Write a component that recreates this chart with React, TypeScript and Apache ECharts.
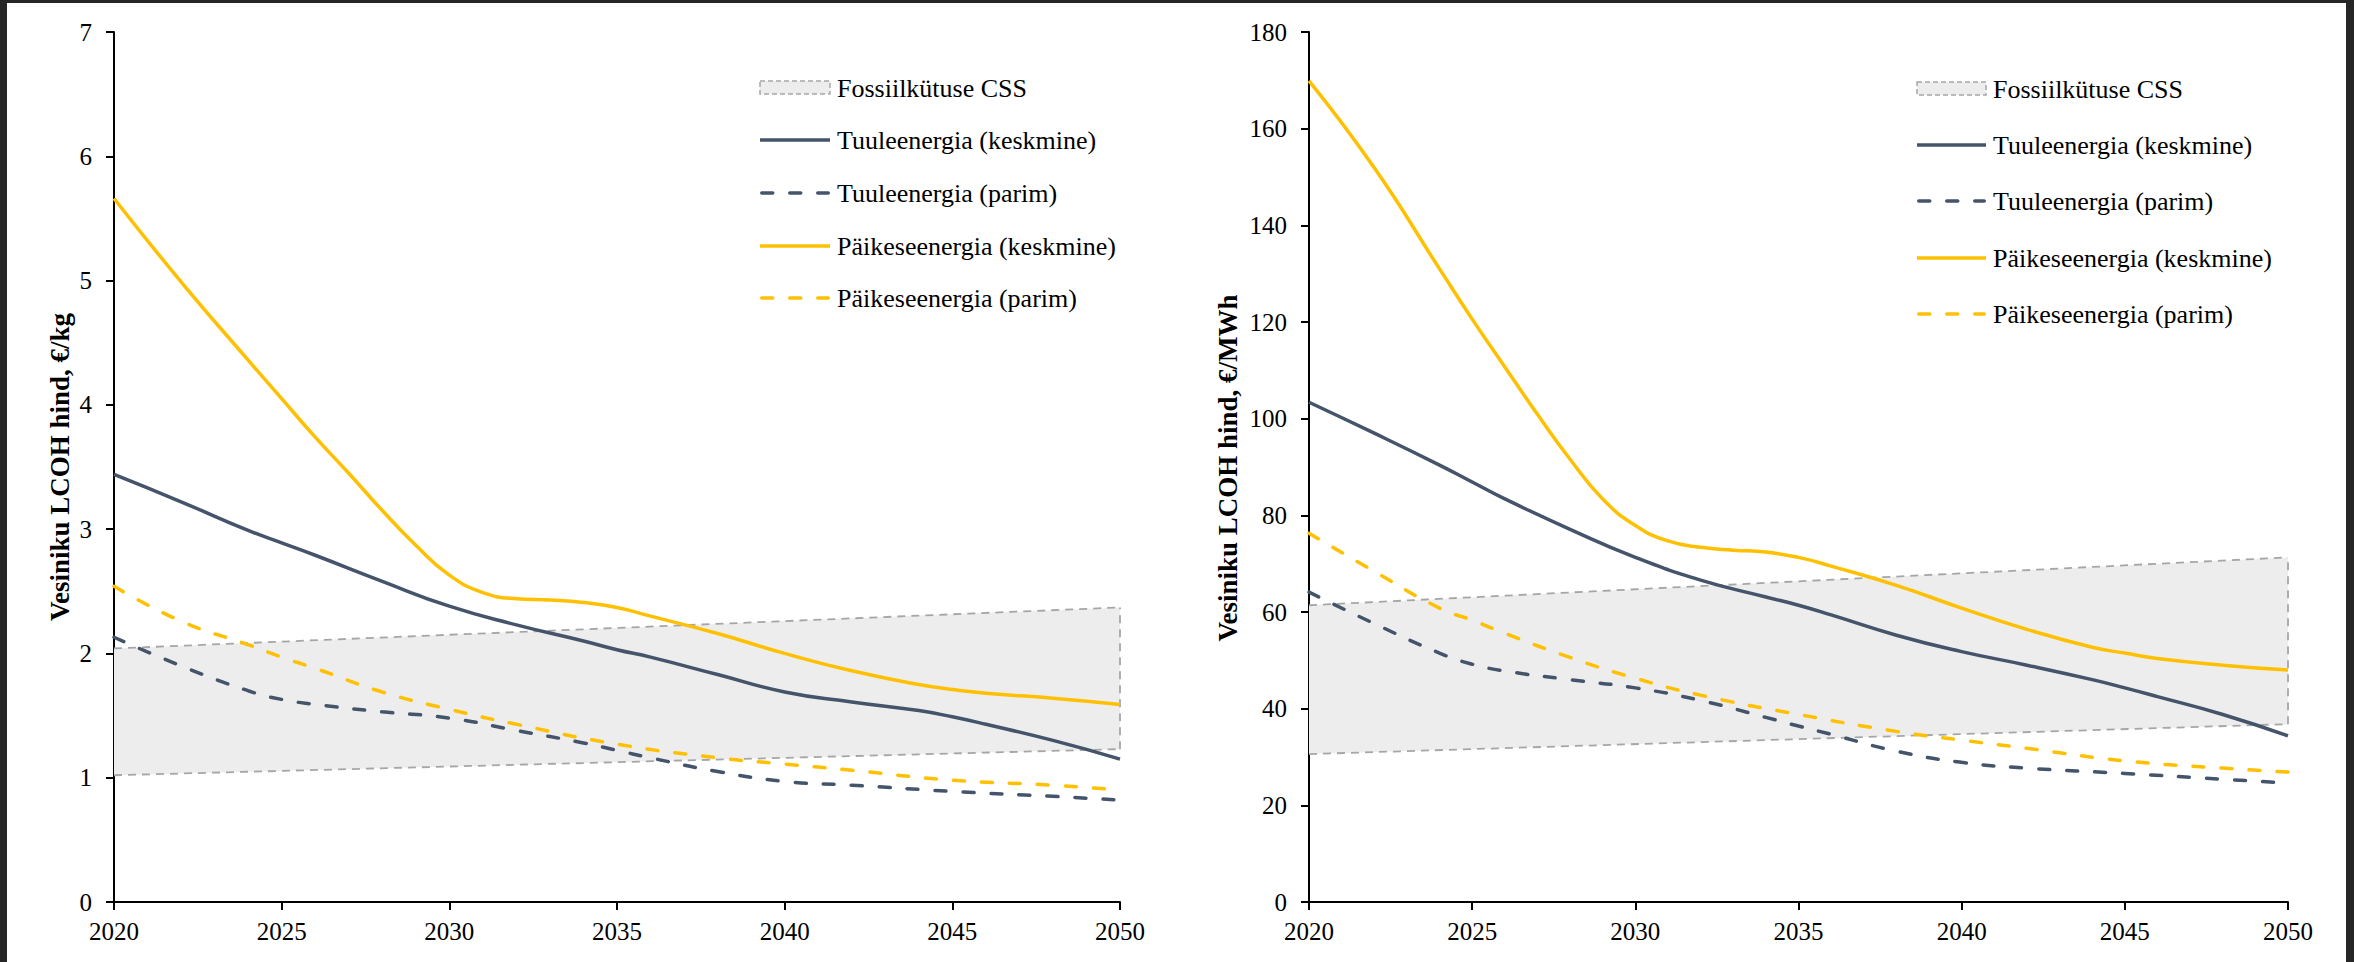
import React, { useEffect, useRef } from "react";
import * as echarts from "echarts";

// ---------- data ----------
const solarAvgYears = [2020, 2022, 2024, 2025, 2026, 2027, 2028, 2029, 2030, 2031, 2032, 2033, 2034, 2035, 2036, 2038, 2040, 2042, 2044, 2045, 2046, 2048, 2050];
const windAvgYears = [2020, 2022, 2024, 2025, 2026, 2028, 2030, 2032, 2034, 2035, 2036, 2038, 2040, 2042, 2044, 2045, 2046, 2048, 2050];
const windBestYears = [2020, 2022, 2024, 2025, 2026, 2028, 2030, 2032, 2034, 2035, 2036, 2038, 2040, 2042, 2045, 2048, 2050];
const solarBestYears = [2020, 2022, 2024, 2025, 2026, 2028, 2030, 2032, 2035, 2038, 2040, 2042, 2045, 2048, 2050];
const bandYears = [2020, 2050];

// left chart, €/kg
const solarAvgKg = [5.66, 4.99, 4.36, 4.05, 3.74, 3.45, 3.15, 2.87, 2.63, 2.49, 2.44, 2.43, 2.41, 2.37, 2.3, 2.16, 2.0, 1.86, 1.75, 1.71, 1.68, 1.64, 1.59];
const windAvgKg = [3.44, 3.22, 2.99, 2.89, 2.79, 2.58, 2.38, 2.23, 2.1, 2.03, 1.97, 1.83, 1.69, 1.61, 1.54, 1.49, 1.43, 1.3, 1.15];
const windBestKg = [2.13, 1.9, 1.7, 1.63, 1.59, 1.53, 1.48, 1.38, 1.28, 1.22, 1.16, 1.05, 0.97, 0.94, 0.89, 0.85, 0.82];
const solarBestKg = [2.54, 2.26, 2.07, 1.97, 1.88, 1.69, 1.55, 1.43, 1.27, 1.16, 1.11, 1.06, 0.98, 0.94, 0.9];
const fossilLowKg = [1.02, 1.23];
const fossilHighKg = [2.04, 2.37];

// right chart, €/MWh
const solarAvgMwh = [169.9, 151.9, 131.0, 120.6, 110.7, 100.9, 91.6, 83.4, 77.9, 74.7, 73.4, 72.8, 72.4, 71.3, 69.5, 65.5, 60.8, 56.4, 52.7, 51.5, 50.4, 49.0, 48.0];
const windAvgMwh = [103.4, 97.0, 90.4, 86.9, 83.4, 77.1, 71.3, 66.6, 63.1, 61.4, 59.4, 55.2, 51.8, 49.0, 46.0, 44.3, 42.5, 38.8, 34.4];
const windBestMwh = [64.1, 57.6, 51.5, 49.2, 47.8, 46.0, 44.3, 41.7, 38.2, 36.4, 34.7, 31.2, 28.9, 27.7, 26.6, 25.4, 24.6];
const solarBestMwh = [76.3, 68.4, 60.8, 58.3, 55.6, 50.6, 46.3, 42.8, 38.8, 35.3, 33.5, 31.8, 29.2, 27.7, 26.9];
const fossilLowMwh = [30.6, 36.8];
const fossilHighMwh = [61.4, 71.3];

const legendNames = [
  "Fossiilkütuse CSS",
  "Tuuleenergia (keskmine)",
  "Tuuleenergia (parim)",
  "Päikeseenergia (keskmine)",
  "Päikeseenergia (parim)",
];
const yTitles = ["Vesiniku LCOH hind, €/kg", "Vesiniku LCOH hind, €/MWh"];

// ---------- style ----------
const OX = 7;
const OY = 3;
const FONT = "Liberation Serif";
const DARK = "#44546A";
const GOLD = "#FFC000";
const BAND_FILL = "#EDEDED";
const BAND_LINE = "#A6A6A6";
const LW = 3.5;
const DASH = [11, 17];
const BAND_DASH = [8, 6];

const pairs = (xs: number[], ys: number[]) => xs.map((x, i) => [x, ys[i]]);

function App() {
  const ref = useRef<HTMLDivElement>(null);
  useEffect(() => {
    if (!ref.current) return;
    const chart = echarts.init(ref.current, null, { renderer: "svg" });

    const grids = [
      { left: 114 - OX, top: 32 - OY, width: 1006, height: 870 },
      { left: 1309 - OX, top: 32 - OY, width: 979, height: 870 },
    ];

    const axisCommon = {
      axisLine: { show: true, onZero: false, lineStyle: { color: "#000", width: 2 } },
      axisTick: { show: true, inside: false, length: 8, lineStyle: { color: "#000", width: 2 } },
      splitLine: { show: false },
    };

    const xAxes = [0, 1].map((i) => ({
      type: "value",
      gridIndex: i,
      min: 2020,
      max: 2050,
      interval: 5,
      ...axisCommon,
      axisLabel: {
        color: "#000",
        fontFamily: FONT,
        fontSize: 25,
        margin: 17,
        formatter: (v: number) => String(v),
      },
    }));
    const yAxes = [
      { max: 7, interval: 1 },
      { max: 180, interval: 20 },
    ].map((a, i) => ({
      type: "value",
      gridIndex: i,
      min: 0,
      max: a.max,
      interval: a.interval,
      ...axisCommon,
      axisLabel: { color: "#000", fontFamily: FONT, fontSize: 25, margin: 22 },
    }));

    const sets = [
      { low: fossilLowKg, high: fossilHighKg, wa: windAvgKg, wb: windBestKg, sa: solarAvgKg, sb: solarBestKg },
      { low: fossilLowMwh, high: fossilHighMwh, wa: windAvgMwh, wb: windBestMwh, sa: solarAvgMwh, sb: solarBestMwh },
    ];

    const series: any[] = [];
    sets.forEach((s, i) => {
      // fossil CSS band: drawn through the axes' scales with api.coord
      series.push({
        type: "custom",
        xAxisIndex: i,
        yAxisIndex: i,
        silent: true,
        z: 1,
        data: bandYears.map((y, k) => [y, s.low[k], s.high[k]]),
        encode: { x: 0, y: [1, 2] },
        renderItem: (params: any, api: any) => {
          if (params.dataIndex !== 0) return null;
          const lowPts = bandYears.map((y, k) => api.coord([y, s.low[k]]));
          const highPts = bandYears.map((y, k) => api.coord([y, s.high[k]]));
          const lineStyle = { stroke: BAND_LINE, lineWidth: 1.8, lineDash: BAND_DASH, fill: null };
          const last = bandYears.length - 1;
          return {
            type: "group",
            children: [
              {
                type: "polygon",
                shape: { points: [...lowPts, ...highPts.slice().reverse()] },
                style: { fill: BAND_FILL, stroke: null },
              },
              { type: "polyline", shape: { points: lowPts }, style: lineStyle },
              { type: "polyline", shape: { points: highPts }, style: lineStyle },
              { type: "polyline", shape: { points: [lowPts[last], highPts[last]] }, style: lineStyle },
            ],
          };
        },
      });
      const line = (years: number[], vals: number[], color: string, dashed: boolean) => ({
        type: "line",
        xAxisIndex: i,
        yAxisIndex: i,
        data: pairs(years, vals),
        symbol: "none",
        smooth: 0.5,
        lineStyle: { color, width: LW, type: dashed ? DASH : "solid", cap: dashed ? "round" : "butt" },
        z: 3,
        silent: true,
      });
      series.push(line(windAvgYears, s.wa, DARK, false));
      series.push(line(windBestYears, s.wb, DARK, true));
      series.push(line(solarAvgYears, s.sa, GOLD, false));
      series.push(line(solarBestYears, s.sb, GOLD, true));
    });

    // legends
    const legends = [
      { x1: 760, x2: 830, tx: 837, rows: [88, 140, 193, 246, 298] },
      { x1: 1917, x2: 1986, tx: 1993, rows: [89, 145, 201, 258, 314] },
    ];
    const graphic: any[] = [];
    legends.forEach((lg) => {
      lg.rows.forEach((ry, k) => {
        const y = ry - OY;
        if (k === 0) {
          graphic.push({
            type: "rect",
            shape: { x: lg.x1 - OX, y: y - 7, width: lg.x2 - lg.x1, height: 13 },
            style: { fill: BAND_FILL, stroke: BAND_LINE, lineWidth: 1.5, lineDash: [5, 3] },
            silent: true,
          });
        } else {
          const color = k <= 2 ? DARK : GOLD;
          const dashed = k === 2 || k === 4;
          const inset = dashed ? LW / 2 : 0;
          graphic.push({
            type: "line",
            shape: { x1: lg.x1 - OX + inset, y1: y, x2: lg.x2 - OX - inset, y2: y },
            style: {
              stroke: color,
              lineWidth: LW,
              lineDash: dashed ? DASH : null,
              lineCap: dashed ? "round" : "butt",
            },
            silent: true,
          });
        }
        graphic.push({
          type: "text",
          x: lg.tx - OX,
          y,
          style: {
            text: legendNames[k],
            fontFamily: FONT,
            fontSize: 26,
            fill: "#000",
            align: "left",
            verticalAlign: "middle",
          },
          silent: true,
        });
      });
    });
    const titlePos = [
      [60, 467],
      [1228, 468],
    ];
    titlePos.forEach((p, i) => {
      graphic.push({
        type: "text",
        x: p[0] - OX,
        y: p[1] - OY,
        rotation: Math.PI / 2,
        style: {
          text: yTitles[i],
          fontFamily: FONT,
          fontSize: 27,
          fontWeight: "bold",
          fill: "#000",
          align: "center",
          verticalAlign: "middle",
        },
        silent: true,
      });
    });

    chart.setOption({
      animation: false,
      backgroundColor: "#ffffff",
      grid: grids,
      xAxis: xAxes,
      yAxis: yAxes,
      series,
      graphic,
    });
    return () => chart.dispose();
  }, []);

  return (
    <div style={{ position: "absolute", left: 0, top: 0, width: 2354, height: 962, background: "#262626" }}>
      <div ref={ref} style={{ position: "absolute", left: OX, top: OY, width: 2354 - 8 - OX, height: 962 - OY }} />
    </div>
  );
}

export default App;
